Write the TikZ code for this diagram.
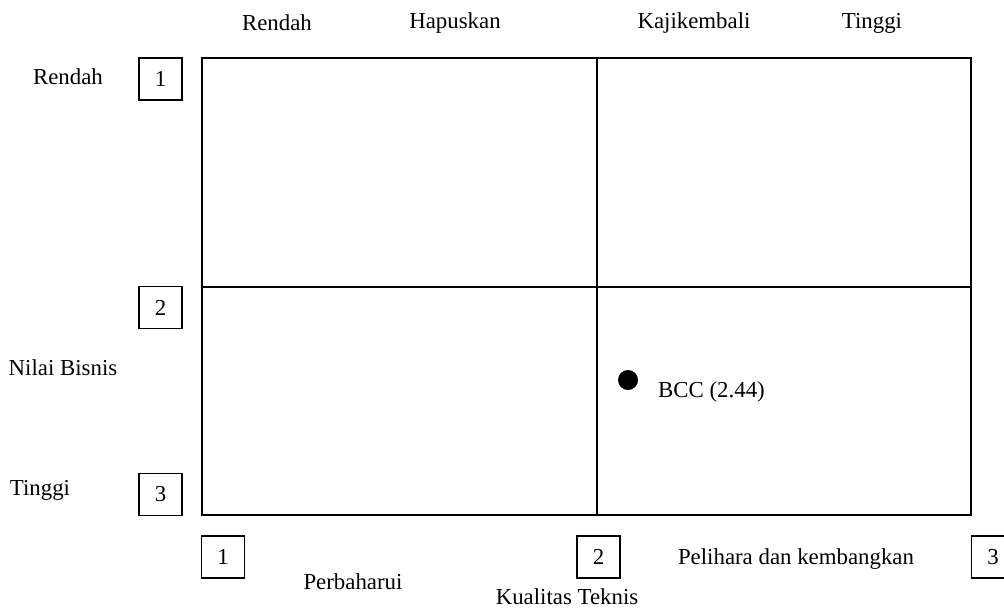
\documentclass[tikz,border=0pt]{standalone}
\usepackage{fontspec}
\setmainfont{Liberation Serif}
\begin{document}
\begin{tikzpicture}[x=0.02cm,y=-0.02cm,
  every node/.style={font=\fontsize{13}{15}\selectfont},
  numbox/.style={draw,line width=1.1pt,minimum width=0.86cm,minimum height=0.84cm,inner sep=0pt},
  gridline/.style={line width=1.3pt}]
\useasboundingbox (0,0) rectangle (1004,610);
\coordinate (nw) at (202,58);
\coordinate (se) at (971,515);
\coordinate (mid) at (597,287);
\draw[gridline] (nw) rectangle (se);
\draw[gridline] (nw -| mid) -- (se -| mid);
\draw[gridline] (nw |- mid) -- (se |- mid);
% number boxes
\foreach \n/\y in {1/79,2/307.5,3/494.5}
  \node[numbox] (left\n) at (160.5,\y) {\n};
\foreach \n/\x in {1/223,2/598.5,3/993}
  \node[numbox] (bottom\n) at (\x,557) {\n};
% labels
\node (topLow) at (277,23) {Rendah};
\node (topDel) at (455,23) {Hapuskan};
\node (topRev) at (694,23) {Kajikembali};
\node (topHigh) at (872,23) {Tinggi};
\node (leftLow) at (68,77) {Rendah};
\node (leftAxis) at (63,368) {Nilai Bisnis};
\node (leftHigh) at (40,490) {Tinggi};
\node (renew) at (353,582) {Perbaharui};
\node[inner sep=1pt] (bottomAxis) at (567,597) {Kualitas Teknis};
\node (keep) at (796,559) {Pelihara dan kembangkan};
\node[circle,fill,minimum size=0.4cm,inner sep=0pt] (bcc) at (628,380) {};
\node[anchor=west] (bccLab) at (652,392) {BCC (2.44)};
\end{tikzpicture}
\end{document}
